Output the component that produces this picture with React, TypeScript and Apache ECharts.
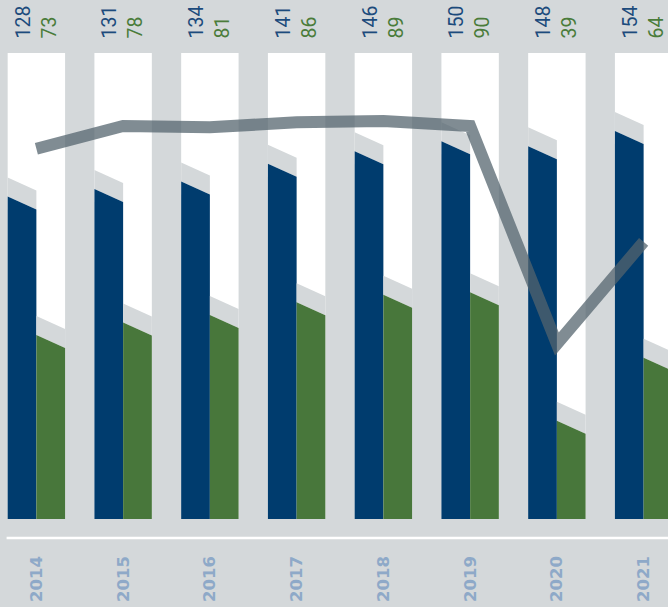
import React, { useEffect, useRef } from "react";
import * as echarts from "echarts";

const years = ["2014", "2015", "2016", "2017", "2018", "2019", "2020", "2021"];
const blueValues = [128, 131, 134, 141, 146, 150, 148, 154];
const greenValues = [73, 78, 81, 86, 89, 90, 39, 64];
const lineValues = [147, 156, 155.5, 157.5, 158, 156, 69.5, 110];

const BG = "#d4d8da";
const BLUE = "#003c6e";
const GREEN = "#48773b";
const BLUE_TXT = "#1c4b7c";
const GREEN_TXT = "#4a7c3a";
const YEAR_TXT = "#8ea9c8";
const Y_MAX = 185;
const SHIFT = 6.6;
const CHART_W = 693.6;

export default function App() {
  const ref = useRef<HTMLDivElement>(null);
  useEffect(() => {
    const chart = echarts.init(ref.current as HTMLDivElement, null, { renderer: "svg" });
    const SLANT = 13;
    const CAP = 19;

    const renderItem = (params: any, api: any) => {
      const idx = api.value(0);
      const b = api.value(1);
      const g = api.value(2);
      const base = api.coord([idx, 0]);
      const cx = base[0];
      const y0 = base[1];
      const yTop = api.coord([idx, Y_MAX])[1];
      const band = api.size([1, 0])[0];
      const bw = band * 0.331;
      const left = cx - bw;
      const yb = api.coord([idx, b])[1];
      const yg = api.coord([idx, g])[1];

      const cap = (x: number, y: number) => ({
        type: "polygon",
        shape: { points: [[x, y - CAP], [x + bw, y - CAP + SLANT], [x + bw, y + SLANT], [x, y]] },
        style: { fill: BG },
      });
      const bar = (x: number, y: number, fill: string) => ({
        type: "polygon",
        shape: { points: [[x, y], [x + bw, y + SLANT], [x + bw, y0], [x, y0]] },
        style: { fill },
      });
      const label = (x: number, text: string, fill: string) => ({
        type: "text",
        x: x,
        y: yTop - 14.5,
        rotation: Math.PI / 2,
        style: {
          text,
          fill,
          fontFamily: "Roboto",
          fontSize: 19.5,
          fontWeight: "normal",
          align: "left",
          verticalAlign: "middle",
        },
      });

      return {
        type: "group",
        children: [
          {
            type: "rect",
            shape: { x: left, y: yTop, width: bw * 2, height: y0 - yTop },
            style: { fill: "#ffffff" },
          },
          cap(left, yb),
          bar(left, yb, BLUE),
          cap(cx, yg),
          bar(cx, yg, GREEN),
          label(left + bw / 2 + 1, String(b), BLUE_TXT),
          label(cx + bw / 2 - 1.5, String(g), GREEN_TXT),
        ],
      };
    };

    chart.setOption({
      animation: false,
      backgroundColor: BG,
      grid: { left: 0, right: 0, top: 53, bottom: 88, containLabel: false },
      xAxis: {
        type: "category",
        data: years,
        axisLine: { show: false },
        axisTick: { show: false },
        splitLine: { show: false },
        axisLabel: {
          rotate: 90,
          margin: 37,
          color: YEAR_TXT,
          fontFamily: "DejaVu Sans",
          fontWeight: "bold",
          fontSize: 16.5,
        },
      },
      yAxis: {
        type: "value",
        min: 0,
        max: Y_MAX,
        show: false,
        splitLine: { show: false },
      },
      graphic: [
        {
          type: "line",
          shape: { x1: 7 + SHIFT, y1: 538, x2: CHART_W, y2: 538 },
          style: { stroke: "#ffffff", lineWidth: 2.5 },
          silent: true,
        },
      ],
      series: [
        {
          type: "custom",
          renderItem,
          data: years.map((_, i) => [i, blueValues[i], greenValues[i]]),
          encode: { x: 0, y: [1, 2] },
          clip: false,
          z: 2,
          silent: true,
        },
        {
          type: "line",
          data: lineValues,
          symbol: "none",
          smooth: false,
          z: 5,
          silent: true,
          lineStyle: {
            color: "rgba(84,100,109,0.74)",
            width: 12,
            join: "miter",
            miterLimit: 10,
            cap: "butt",
          },
        },
      ],
    });
    return () => chart.dispose();
  }, []);

  return (
    <div
      style={{
        position: "fixed",
        left: 0,
        top: 0,
        width: 668,
        height: 607,
        overflow: "hidden",
        background: BG,
      }}
    >
      <div
        ref={ref}
        style={{ position: "absolute", left: -SHIFT, top: 0, width: CHART_W, height: 607 }}
      />
    </div>
  );
}
